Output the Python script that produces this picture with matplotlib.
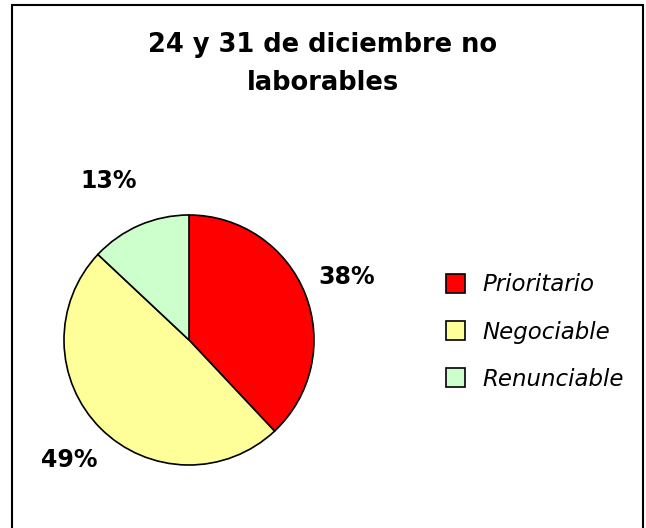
import matplotlib.pyplot as plt
from matplotlib.patches import Rectangle

# data
labels = ["Prioritario", "Negociable", "Renunciable"]
values = [38, 49, 13]
colors = ["#FF0000", "#FFFF99", "#CCFFCC"]
title = "24 y 31 de diciembre no\nlaborables"

W, H = 646, 528
fig = plt.figure(figsize=(W / 100, H / 100), dpi=100)
fig.patch.set_facecolor("white")

# outer frame (bottom edge runs off the image)
fig.add_artist(Rectangle((12 / W, -0.05), (643 - 12) / W, 1.05 - 5 / H,
                         transform=fig.transFigure, fill=False,
                         edgecolor="black", linewidth=1.5))

fig.text(323 / W, 1 - 64 / H, title, ha="center", va="center",
         fontsize=18.5, fontweight="bold", linespacing=1.6)

# pie: centre (189, 340), radius 125 px
r = 125
ax = fig.add_axes([(189 - r) / W, 1 - (340 + r) / H, 2 * r / W, 2 * r / H])
wedges, texts, autotexts = ax.pie(
    values, colors=colors, startangle=90, counterclock=False,
    autopct="%1.0f%%", pctdistance=1.36,
    wedgeprops=dict(edgecolor="black", linewidth=1.2),
    textprops=dict(fontsize=17, fontweight="bold"))
ax.set_xlim(-1, 1)
ax.set_ylim(-1, 1)
ax.set_aspect("equal")
# nudge the small slice label a bit left, as in the original
x, y = autotexts[2].get_position()
autotexts[2].set_position((x - 0.1, y + 0.02))

leg = fig.legend(wedges, labels, loc="center left",
                 bbox_to_anchor=(425 / W, 1 - 332 / H), frameon=False,
                 prop=dict(size=16.5, style="italic"),
                 handlelength=0.85, handleheight=0.85, handletextpad=0.75,
                 labelspacing=1.05)

fig.savefig("out.png", dpi=100)
